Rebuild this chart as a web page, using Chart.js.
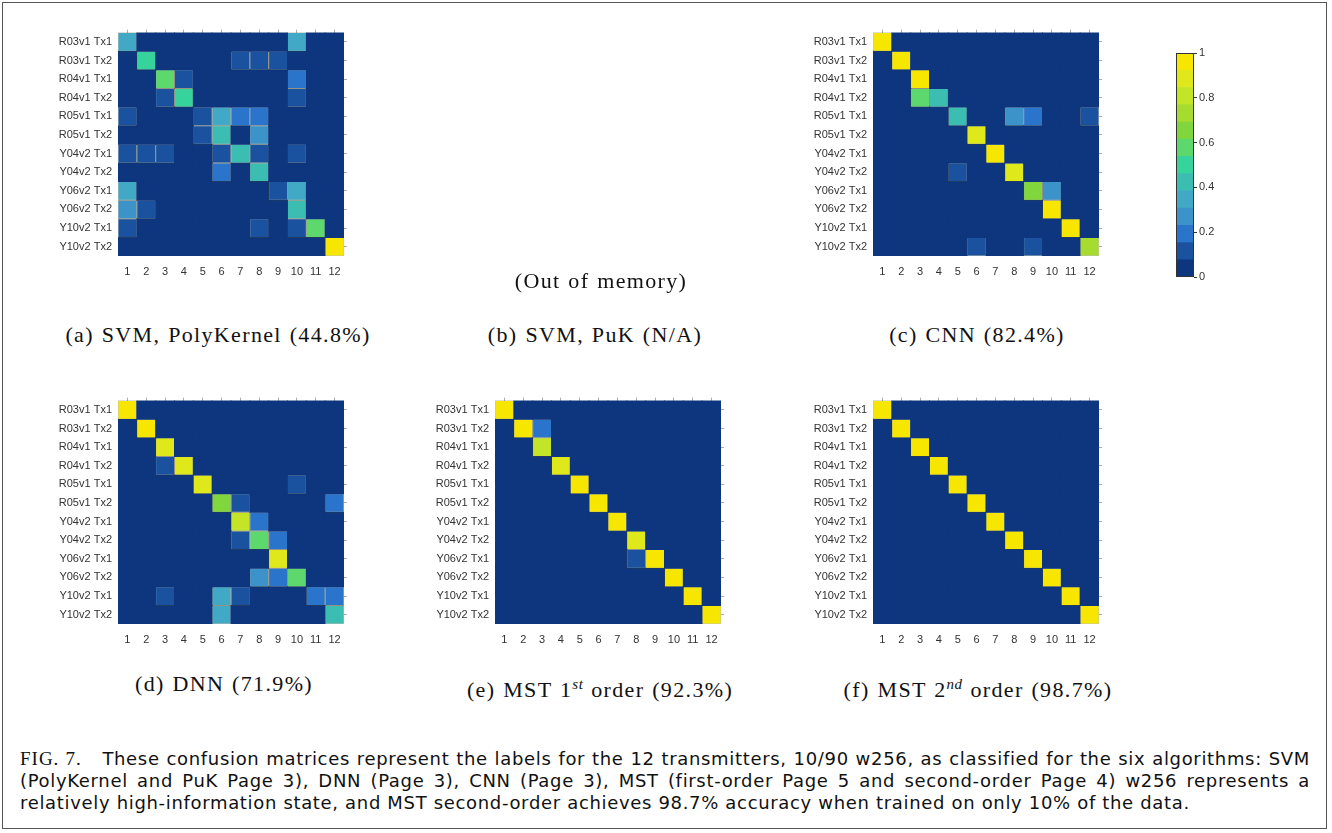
<!DOCTYPE html>
<html>
<head>
<meta charset="utf-8">
<script src="https://cdn.jsdelivr.net/npm/chart.js@4.4.1/dist/chart.umd.min.js"></script>
<style>
  body { margin: 0; background: #fff; }
  #page { position: relative; width: 1332px; height: 833px; overflow: hidden; }
  #frame { position: absolute; left: 2px; top: 2px; width: 1325px; height: 827px; border: 1.5px solid #555; box-sizing: border-box; }
  canvas { position: absolute; }
  .sub { position: absolute; width: 440px; height: 30px; line-height: 30px; text-align: center;
         font-family: "Liberation Serif", serif; font-size: 22px; letter-spacing: 1.35px; word-spacing: 1px;
         color: #111; white-space: nowrap; }
  .sub sup { font-size: 15px; letter-spacing: 0.5px; }
  #caption { position: absolute; left: 20px; top: 748px; width: 1290px; line-height: 22px;
             font-family: "DejaVu Sans", sans-serif; font-size: 18px; letter-spacing: 0.67px; color: #111;
             text-align: justify; text-align-last: left; }
  #caption .fig { font-family: "Liberation Serif", serif; font-size: 19px; letter-spacing: 1px; }
</style>
</head>
<body>
<div id="page">
  <div id="frame"></div>

  <canvas id="mA" width="306" height="266" style="left:48px;top:20px"></canvas>
  <canvas id="mC" width="306" height="266" style="left:803px;top:20px"></canvas>
  <canvas id="mD" width="306" height="266" style="left:48px;top:388px"></canvas>
  <canvas id="mE" width="306" height="266" style="left:425px;top:388px"></canvas>
  <canvas id="mF" width="306" height="266" style="left:803px;top:388px"></canvas>
  <canvas id="cbar" width="58" height="244" style="left:1176px;top:43px"></canvas>

  <div class="sub" style="left:381px;top:266px">(Out of memory)</div>
  <div class="sub" style="left:-2px;top:320px">(a) SVM, PolyKernel (44.8%)</div>
  <div class="sub" style="left:375px;top:320px">(b) SVM, PuK (N/A)</div>
  <div class="sub" style="left:757px;top:320px">(c) CNN (82.4%)</div>
  <div class="sub" style="left:4px;top:669px">(d) DNN (71.9%)</div>
  <div class="sub" style="left:380px;top:669px">(e) MST 1<sup><i>st</i></sup> order (92.3%)</div>
  <div class="sub" style="left:758px;top:669px">(f) MST 2<sup><i>nd</i></sup> order (98.7%)</div>

  <div id="caption"><span class="fig">FIG. 7.</span>&nbsp;&nbsp; These confusion matrices represent the labels for the 12 transmitters, 10/90 w256, as classified for the six algorithms: SVM (PolyKernel and PuK Page 3), DNN (Page 3), CNN (Page 3), MST (first-order Page 5 and second-order Page 4) w256 represents a relatively high-information state, and MST second-order achieves 98.7% accuracy when trained on only 10% of the data.</div>
</div>

<script>
const rowLabels = ['R03v1 Tx1', 'R03v1 Tx2', 'R04v1 Tx1', 'R04v1 Tx2', 'R05v1 Tx1', 'R05v1 Tx2',
                   'Y04v2 Tx1', 'Y04v2 Tx2', 'Y06v2 Tx1', 'Y06v2 Tx2', 'Y10v2 Tx1', 'Y10v2 Tx2'];
const colLabels = ['1', '2', '3', '4', '5', '6', '7', '8', '9', '10', '11', '12'];
const cbarTicks = [0, 0.2, 0.4, 0.6, 0.8, 1];

// rows = true class, columns = predicted class
const svmPoly = [
  [0.33, 0, 0, 0, 0, 0, 0, 0, 0, 0.33, 0, 0],
  [0, 0.5, 0, 0, 0, 0, 0.1, 0.1, 0.1, 0, 0, 0],
  [0, 0, 0.58, 0.1, 0, 0, 0, 0, 0, 0.18, 0, 0],
  [0, 0, 0.1, 0.5, 0, 0, 0, 0, 0, 0.1, 0, 0],
  [0.1, 0, 0, 0, 0.1, 0.33, 0.18, 0.18, 0, 0, 0, 0],
  [0, 0, 0, 0, 0.1, 0.42, 0, 0.26, 0, 0, 0, 0],
  [0.1, 0.1, 0.1, 0, 0, 0.1, 0.42, 0.1, 0, 0.1, 0, 0],
  [0, 0, 0, 0, 0, 0.18, 0, 0.42, 0, 0, 0, 0],
  [0.33, 0, 0, 0, 0, 0, 0, 0, 0.1, 0.33, 0, 0],
  [0.26, 0.1, 0, 0, 0, 0, 0, 0, 0, 0.42, 0, 0],
  [0.1, 0, 0, 0, 0, 0, 0, 0.1, 0, 0.1, 0.58, 0],
  [0, 0, 0, 0, 0, 0, 0, 0, 0, 0, 0, 1]
];
const cnn = [
  [1, 0, 0, 0, 0, 0, 0, 0, 0, 0, 0, 0],
  [0, 1, 0, 0, 0, 0, 0, 0, 0, 0, 0, 0],
  [0, 0, 1, 0, 0, 0, 0, 0, 0, 0, 0, 0],
  [0, 0, 0.58, 0.42, 0, 0, 0, 0, 0, 0, 0, 0],
  [0, 0, 0, 0, 0.42, 0, 0, 0.26, 0.18, 0, 0, 0.1],
  [0, 0, 0, 0, 0, 0.88, 0, 0, 0, 0, 0, 0],
  [0, 0, 0, 0, 0, 0, 1, 0, 0, 0, 0, 0],
  [0, 0, 0, 0, 0.1, 0, 0, 0.88, 0, 0, 0, 0],
  [0, 0, 0, 0, 0, 0, 0, 0, 0.65, 0.26, 0, 0],
  [0, 0, 0, 0, 0, 0, 0, 0, 0, 1, 0, 0],
  [0, 0, 0, 0, 0, 0, 0, 0, 0, 0, 1, 0],
  [0, 0, 0, 0, 0, 0.1, 0, 0, 0.1, 0, 0, 0.73]
];
const dnn = [
  [1, 0, 0, 0, 0, 0, 0, 0, 0, 0, 0, 0],
  [0, 1, 0, 0, 0, 0, 0, 0, 0, 0, 0, 0],
  [0, 0, 0.88, 0, 0, 0, 0, 0, 0, 0, 0, 0],
  [0, 0, 0.1, 0.88, 0, 0, 0, 0, 0, 0, 0, 0],
  [0, 0, 0, 0, 0.88, 0, 0, 0, 0, 0.1, 0, 0],
  [0, 0, 0, 0, 0, 0.65, 0.1, 0, 0, 0, 0, 0.18],
  [0, 0, 0, 0, 0, 0, 0.8, 0.18, 0, 0, 0, 0],
  [0, 0, 0, 0, 0, 0, 0.1, 0.58, 0.18, 0, 0, 0],
  [0, 0, 0, 0, 0, 0, 0, 0, 0.88, 0, 0, 0],
  [0, 0, 0, 0, 0, 0, 0, 0.26, 0.18, 0.58, 0, 0],
  [0, 0, 0.1, 0, 0, 0.33, 0.1, 0, 0, 0, 0.18, 0.18],
  [0, 0, 0, 0, 0, 0.33, 0, 0, 0, 0, 0, 0.42]
];
const mst1 = [
  [1, 0, 0, 0, 0, 0, 0, 0, 0, 0, 0, 0],
  [0, 1, 0.18, 0, 0, 0, 0, 0, 0, 0, 0, 0],
  [0, 0, 0.8, 0, 0, 0, 0, 0, 0, 0, 0, 0],
  [0, 0, 0, 0.88, 0, 0, 0, 0, 0, 0, 0, 0],
  [0, 0, 0, 0, 1, 0, 0, 0, 0, 0, 0, 0],
  [0, 0, 0, 0, 0, 1, 0, 0, 0, 0, 0, 0],
  [0, 0, 0, 0, 0, 0, 1, 0, 0, 0, 0, 0],
  [0, 0, 0, 0, 0, 0, 0, 0.88, 0, 0, 0, 0],
  [0, 0, 0, 0, 0, 0, 0, 0.1, 1, 0, 0, 0],
  [0, 0, 0, 0, 0, 0, 0, 0, 0, 1, 0, 0],
  [0, 0, 0, 0, 0, 0, 0, 0, 0, 0, 1, 0],
  [0, 0, 0, 0, 0, 0, 0, 0, 0, 0, 0, 1]
];
const mst2 = [
  [1, 0, 0, 0, 0, 0, 0, 0, 0, 0, 0, 0],
  [0, 1, 0, 0, 0, 0, 0, 0, 0, 0, 0, 0],
  [0, 0, 1, 0, 0, 0, 0, 0, 0, 0, 0, 0],
  [0, 0, 0, 1, 0, 0, 0, 0, 0, 0, 0, 0],
  [0, 0, 0, 0, 1, 0, 0, 0, 0, 0, 0, 0],
  [0, 0, 0, 0, 0, 1, 0, 0, 0, 0, 0, 0],
  [0, 0, 0, 0, 0, 0, 1, 0, 0, 0, 0, 0],
  [0, 0, 0, 0, 0, 0, 0, 1, 0, 0, 0, 0],
  [0, 0, 0, 0, 0, 0, 0, 0, 1, 0, 0, 0],
  [0, 0, 0, 0, 0, 0, 0, 0, 0, 1, 0, 0],
  [0, 0, 0, 0, 0, 0, 0, 0, 0, 0, 1, 0],
  [0, 0, 0, 0, 0, 0, 0, 0, 0, 0, 0, 1]
];

// 13-step parula-like map, low -> high
const cmap = ['#0e367e', '#1a52a0', '#2b74cb', '#3b93c9', '#41a9c5', '#3bbdb2', '#37d39c',
              '#5cd86c', '#82d63d', '#a6dc30', '#c4e428', '#dfe81a', '#f7e700'];

function colourFor(v) {
  return cmap[Math.min(cmap.length - 1, Math.floor(v * cmap.length + 1e-9))];
}

const tickFont = { family: 'Liberation Sans', size: 11 };
const centreTicks = s => { s.ticks = rowLabels.map((r, i) => ({ value: i + 0.5 })); };

function matrixChart(id, values) {
  return new Chart(document.getElementById(id), {
    type: 'bar',
    data: {
      labels: colLabels,
      datasets: rowLabels.map((r, i) => ({
        label: r,
        data: colLabels.map(() => 1),
        backgroundColor: values[i].map(colourFor),
        borderColor: values[i].map(v => v > 0 ? 'rgba(70,70,40,0.35)' : 'rgba(0,0,0,0)'),
        borderWidth: values[i].map(v => v > 0 ? 1 : 0),
        borderSkipped: false,
        inflateAmount: 0.5,
        barPercentage: 1,
        categoryPercentage: 1
      }))
    },
    options: {
      responsive: false,
      animation: false,
      layout: { padding: 0 },
      plugins: { legend: { display: false }, tooltip: { enabled: false } },
      scales: {
        x: {
          stacked: true, offset: true,
          grid: { display: false, drawTicks: false }, border: { display: false },
          ticks: { padding: 9, color: '#333', font: tickFont },
          afterFit: s => { s.height = 30; }
        },
        x2: {
          type: 'category', labels: colLabels, position: 'top', offset: true,
          grid: { offset: false, drawOnChartArea: false, tickLength: 3, color: '#aaa' },
          border: { display: false }, ticks: { display: false },
          afterFit: s => { s.height = 10; }
        },
        y: {
          stacked: true, min: 0, max: 12, reverse: true,
          grid: { display: false, drawTicks: false }, border: { display: false },
          afterBuildTicks: centreTicks,
          ticks: { padding: 6, autoSkip: false, color: '#333', font: tickFont, callback: (v, i) => rowLabels[i] },
          afterFit: s => { s.width = 70; }
        },
        y2: {
          type: 'linear', position: 'right', min: 0, max: 12, reverse: true,
          afterBuildTicks: centreTicks,
          grid: { drawOnChartArea: false, tickLength: 3, color: '#aaa' },
          border: { display: false }, ticks: { display: false },
          afterFit: s => { s.width = 10; }
        }
      }
    }
  });
}

matrixChart('mA', svmPoly);
matrixChart('mC', cnn);
matrixChart('mD', dnn);
matrixChart('mE', mst1);
matrixChart('mF', mst2);

// colour bar
const outline = {
  id: 'outline',
  afterDatasetsDraw(chart) {
    const a = chart.chartArea, c = chart.ctx;
    c.save();
    c.strokeStyle = '#333';
    c.lineWidth = 1;
    c.strokeRect(a.left + 0.5, a.top + 0.5, a.width - 1, a.height - 1);
    c.restore();
  }
};

new Chart(document.getElementById('cbar'), {
  type: 'bar',
  data: {
    labels: [''],
    datasets: cmap.map((col, k) => ({
      data: [[k / cmap.length, (k + 1) / cmap.length]],
      backgroundColor: col,
      barPercentage: 1,
      categoryPercentage: 1
    }))
  },
  options: {
    responsive: false,
    animation: false,
    layout: { padding: { top: 10, bottom: 10 } },
    plugins: { legend: { display: false }, tooltip: { enabled: false } },
    scales: {
      x: { stacked: true, display: false },
      y: {
        position: 'right', min: 0, max: 1,
        afterBuildTicks: s => { s.ticks = cbarTicks.map(v => ({ value: v })); },
        grid: { drawOnChartArea: false, tickLength: 3, color: '#333' },
        border: { display: false },
        ticks: { padding: 2, color: '#333', font: tickFont, callback: v => String(v) },
        afterFit: s => { s.width = 40; }
      }
    }
  },
  plugins: [outline]
});
</script>
</body>
</html>
